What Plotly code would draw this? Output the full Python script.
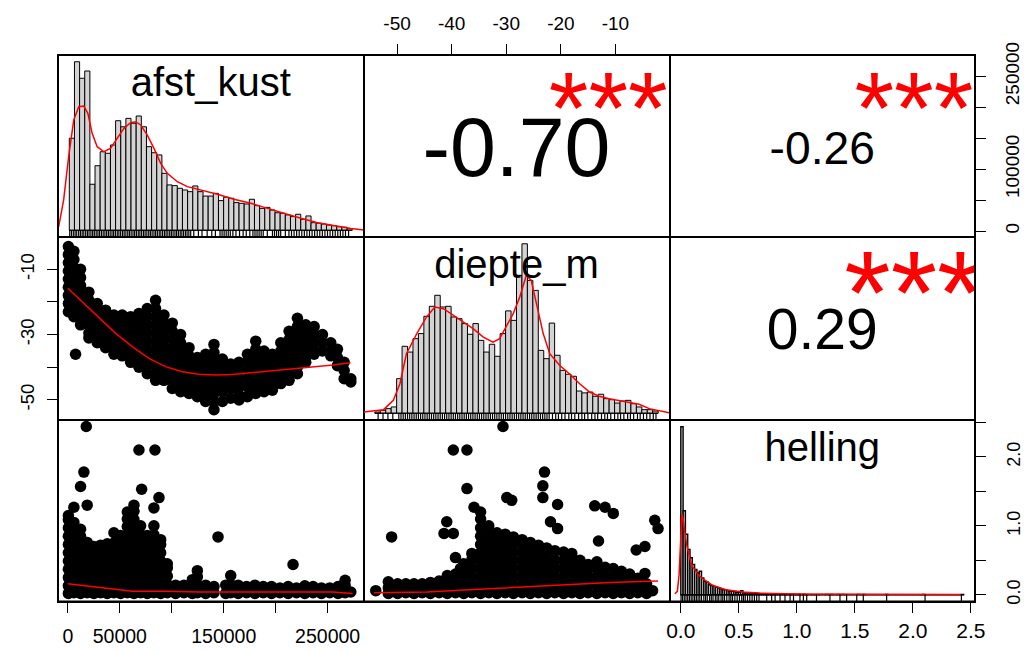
import plotly.graph_objects as go
import numpy as np

FONT = "Liberation Sans, Arial, sans-serif"

# ------------------------------------------------------------------ data
var_names = ["afst_kust", "diepte_m", "helling"]
cor_text = ["-0.70", "-0.26", "0.29"]          # (afst,diepte) (afst,helling) (diepte,helling)
cor_values = [-0.70, -0.26, 0.29]
cor_stars = ["***", "***", "***"]

# histogram of afst_kust (breaks 0..275000 by 5000), relative density
afst_breaks = (0, 275000, 5000)
afst_hist = [0.546, 1.0, 0.902, 0.945, 0.273, 0.383, 0.466, 0.457, 0.506, 0.650,
             0.614, 0.664, 0.635, 0.678, 0.614, 0.496, 0.460, 0.447, 0.338, 0.269,
             0.265, 0.249, 0.239, 0.229, 0.263, 0.229, 0.203, 0.203, 0.219, 0.176,
             0.196, 0.190, 0.164, 0.160, 0.156, 0.184, 0.146, 0.130, 0.136, 0.120,
             0.104, 0.101, 0.091, 0.081, 0.095, 0.065, 0.085, 0.045, 0.042, 0.037,
             0.031, 0.027, 0.021, 0.018, 0.009]
afst_dens_x = [-10400, -5500, -600, 4300, 9200, 14100, 18000, 22200, 27100, 33600, 40000,
               46600, 53100, 59600, 64400, 69300, 75800, 82300, 88800, 95300, 105000,
               114800, 127800, 144000, 160000, 176500, 192700, 209000, 225000, 241400,
               257600, 273800, 286800]
afst_dens_y = [0.02, 0.18, 0.44, 0.654, 0.733, 0.737, 0.694, 0.575, 0.496, 0.466, 0.486,
               0.546, 0.605, 0.638, 0.644, 0.625, 0.565, 0.486, 0.397, 0.338, 0.288,
               0.259, 0.239, 0.214, 0.184, 0.16, 0.13, 0.10, 0.071, 0.045,
               0.026, 0.01, 0.002]
afst_rug = [400, 2100, 3900, 5600, 7200, 9100, 10800, 12500, 14100, 15900, 17600, 19200,
            21000, 22700, 24300, 26100, 27800, 29400, 31200, 32900, 34600, 36300, 38000,
            39700, 41500, 43100, 44800, 46600, 48200, 49900, 51700, 53300, 55000, 56800,
            58400, 60100, 61900, 63500, 65200, 67000, 68600, 70300, 72100, 73700, 75400,
            77200, 78800, 80500, 82300, 83900, 85600, 87400, 89000, 90700, 92500, 94100,
            95800, 97600, 99200, 100900, 102700, 104300, 106000, 107800, 109400, 111100,
            112900, 114500, 116200, 118000, 121000, 125500, 129000, 134000, 138500,
            142000, 146500, 148500, 150500, 152500, 154500, 156500, 159000, 162000,
            165500, 169000, 172000, 175500, 178500, 180500, 182500, 184500, 186500,
            188500, 192500, 197500, 199500, 201500, 203500, 205500, 210000, 213500,
            216000, 218500, 221000, 223500, 226000, 228500, 231000, 233500, 236000,
            238500, 241000, 243500, 246000, 248500, 251000, 253500, 256000, 258500,
            261000, 263500, 266000, 268500, 271500]

# histogram of diepte_m (breaks -54..-2 by 1), relative density
diepte_breaks = (-54, -2, 1)
diepte_hist = [0.007, 0.017, 0.027, 0.037, 0.204, 0.395, 0.361, 0.440, 0.470, 0.572,
               0.631, 0.696, 0.627, 0.631, 0.568, 0.558, 0.529, 0.466, 0.529, 0.430,
               0.361, 0.407, 0.336, 0.470, 0.604, 0.548, 0.814, 1.0, 0.784, 0.725,
               0.371, 0.322, 0.532, 0.342, 0.253, 0.230, 0.218, 0.131, 0.120, 0.125,
               0.100, 0.112, 0.086, 0.080, 0.060, 0.072, 0.076, 0.056, 0.037, 0.021,
               0.021, 0.013]
diepte_dens_x = [-56.08, -52.4, -50.6, -49.4, -48.2, -46.3, -44.5, -43.0, -41.4, -39.6,
                 -37.8, -35.96, -34.1, -32.3, -31.1, -29.9, -28.6, -27.4, -26.2, -25.3,
                 -24.4, -23.1, -21.9, -20.1, -18.3, -16.4, -14.6, -12.8, -11.0, -9.1,
                 -7.3, -5.5, -3.64, -1.8, 0.02]
diepte_dens_y = [0.007, 0.021, 0.076, 0.174, 0.351, 0.470, 0.568, 0.627, 0.617, 0.578,
                 0.538, 0.499, 0.449, 0.420, 0.440, 0.509, 0.588, 0.686, 0.814, 0.784,
                 0.647, 0.470, 0.351, 0.283, 0.233, 0.174, 0.125, 0.100, 0.086, 0.076,
                 0.066, 0.053, 0.027, 0.013, 0.003]
diepte_rug = [-53.4, -52.5, -51.6, -50.7, -49.6, -49.2, -48.8, -48.4, -48.0, -47.6, -47.2,
              -46.8, -46.4, -46.0, -45.6, -45.2, -44.8, -44.4, -44.0, -43.6, -43.2, -42.8,
              -42.4, -42.0, -41.6, -41.2, -40.8, -40.4, -40.0, -39.6, -39.2, -38.8, -38.4,
              -38.0, -37.6, -37.2, -36.8, -36.4, -36.0, -35.6, -35.2, -34.8, -34.4, -34.0,
              -33.6, -33.2, -32.8, -32.4, -32.0, -31.6, -31.2, -30.8, -30.4, -30.0, -29.6,
              -29.2, -28.8, -28.4, -28.0, -27.6, -27.2, -26.8, -26.4, -26.0, -25.6, -25.2,
              -24.8, -24.4, -24.0, -23.6, -23.2, -22.8, -22.4, -22.0, -21.4, -20.8, -20.3,
              -19.7, -19.1, -18.4, -17.9, -17.3, -16.6, -16.0, -15.5, -14.9, -14.2, -13.6,
              -13.1, -12.4, -11.8, -11.3, -10.7, -10.0, -9.4, -8.9, -8.3, -7.6, -7.1,
              -6.5, -5.8, -5.3, -4.7, -4.1, -3.5, -2.9, -2.4]

# histogram of helling (breaks 0..2.46 by 0.02), relative density
helling_breaks = (0.0, 2.46, 0.02)
helling_hist = [1.0, 0.50, 0.36, 0.27, 0.22, 0.18, 0.15, 0.13, 0.14, 0.10,
                0.08, 0.075, 0.06, 0.055, 0.05, 0.045, 0.04, 0.035, 0.03, 0.03,
                0.025, 0.02, 0.02, 0.018, 0.015, 0.015, 0.025, 0.012, 0.01, 0.01,
                0.01, 0.012, 0.008, 0.008, 0.006, 0.005, 0.004, 0.004, 0.006, 0.003,
                0.003, 0.005, 0.002, 0.002, 0.004, 0.002, 0.003, 0.002, 0.004, 0.002,
                0.002, 0.004, 0.001, 0.003, 0.001, 0, 0, 0.001, 0, 0.001,
                0, 0, 0, 0.002, 0, 0.002, 0, 0, 0.002, 0,
                0.002, 0, 0, 0, 0, 0, 0, 0.002, 0, 0.002,
                0, 0, 0, 0, 0, 0, 0, 0, 0, 0.002,
                0, 0, 0, 0, 0, 0, 0, 0, 0, 0,
                0, 0, 0, 0, 0, 0.002, 0, 0, 0, 0,
                0, 0, 0, 0, 0, 0, 0, 0, 0, 0,
                0, 0, 0.002]
helling_dens_x = [-0.052, -0.03, -0.015, 0.0, 0.009, 0.02, 0.049, 0.08, 0.106, 0.15,
                  0.193, 0.28, 0.395, 0.539, 0.682, 1.0, 1.5, 2.0, 2.437]
helling_dens_y = [0.006, 0.02, 0.12, 0.35, 0.479, 0.45, 0.304, 0.21, 0.165, 0.12,
                  0.095, 0.055, 0.03, 0.016, 0.01, 0.005, 0.003, 0.002, 0.002]
helling_rug = [0.002, 0.015, 0.03, 0.045, 0.06, 0.075, 0.09, 0.105, 0.12, 0.135, 0.15,
               0.165, 0.18, 0.2, 0.215, 0.23, 0.25, 0.265, 0.28, 0.3, 0.315, 0.33, 0.35,
               0.365, 0.38, 0.4, 0.42, 0.435, 0.45, 0.47, 0.49, 0.51, 0.53, 0.545, 0.56,
               0.58, 0.6, 0.62, 0.64, 0.66, 0.68, 0.747, 0.79, 0.82, 0.863, 0.906, 0.95,
               0.98, 1.036, 1.066, 1.095, 1.18, 1.297, 1.384, 1.442, 1.53, 1.587, 1.79,
               2.124, 2.44]

# scatter afst_kust (x) vs diepte_m (y): columns of points
afst_diepte_cols = [
    (500, [-3, -5.5, -8, -10.5, -13, -15.5, -18, -20.5, -23]),
    (5800, [-4.5, -7, -9.5, -12, -14.5, -17, -19.5, -22, -24.5]),
    (7400, [-36]),
    (12200, [-10, -12.5, -15, -17.5, -20, -22.5, -25, -27]),
    (20200, [-17, -19.5, -22, -24.5, -27, -29.5, -31]),
    (28300, [-20.5, -23, -25.5, -28, -30.5, -32.5]),
    (36300, [-22.5, -25, -27.5, -30, -32.5, -34]),
    (44300, [-24, -26.5, -29, -31.5, -34, -36]),
    (52300, [-24, -26.5, -29, -31.5, -34, -36.5]),
    (60400, [-24.5, -27, -29.5, -32, -34.5, -37, -38.5]),
    (68400, [-23.5, -26, -28.5, -31, -33.5, -36, -38.5, -40]),
    (76400, [-22, -24.5, -27, -29.5, -32, -34.5, -37, -39.5, -42]),
    (84400, [-19.5, -22, -24.5, -27, -29.5, -32, -34.5, -37, -39.5, -42, -44]),
    (92500, [-24, -26.5, -29, -31.5, -34, -36.5, -39, -41.5, -44]),
    (100500, [-26.5, -29, -31.5, -34, -36.5, -39, -41.5, -44, -46.5]),
    (108500, [-30, -32.5, -35, -37.5, -40, -42.5, -45, -47.5]),
    (116600, [-34, -36.5, -39, -41.5, -44, -46.5, -48]),
    (124600, [-37, -39.5, -42, -44.5, -47, -49]),
    (132600, [-36, -38.5, -41, -43.5, -46, -48.5, -50.5]),
    (140600, [-33, -35.5, -38, -40.5, -43, -45.5, -48, -50.5, -53]),
    (148700, [-37.5, -40, -42.5, -45, -47.5, -50.5]),
    (156700, [-39, -41.5, -44, -46.5, -49.5]),
    (164700, [-38.5, -41, -43.5, -46, -48.5, -50]),
    (172800, [-36, -38.5, -41, -43.5, -46, -49]),
    (180800, [-32, -34.5, -37, -39.5, -42, -44.5, -47, -48]),
    (188800, [-35, -37.5, -40, -42.5, -45, -47.5]),
    (196800, [-36, -38.5, -41, -43.5, -46, -47]),
    (204900, [-32.5, -35, -37.5, -40, -42.5, -45]),
    (212900, [-29, -31.5, -34, -36.5, -39, -41.5, -44]),
    (220900, [-25, -27.5, -30, -32.5, -35, -37.5, -40, -42]),
    (228900, [-27, -29.5, -32, -34.5, -37, -38.5]),
    (237000, [-27.5, -30, -32.5, -35, -36]),
    (245000, [-30, -32.5, -35]),
    (253000, [-32.5, -35, -36.5]),
    (259400, [-34.5, -37, -39.5]),
    (265900, [-38.5, -41, -43.5]),
    (272300, [-43.5, -44.5]),
]
lowess_ad_x = [0, 13800, 29900, 46000, 62000, 78000, 94000, 110000, 126000, 142000,
               158000, 174000, 190000, 206000, 222000, 238000, 255000, 272000]
lowess_ad_y = [-15.8, -20, -25, -29.6, -33.7, -37.3, -39.8, -41.4, -42.1, -42.4,
               -42.2, -41.7, -41.4, -40.8, -40.3, -39.8, -39.3, -38.6]

# scatter afst_kust (x) vs helling (y)
afst_helling_cols = [
    (500, [0.02, 0.13, 0.25, 0.37, 0.49, 0.61, 0.73, 0.85, 0.97, 1.09, 1.15]),
    (5800, [0.03, 0.15, 0.27, 0.39, 0.51, 0.63, 0.75, 0.87, 0.99, 1.05, 1.27]),
    (12200, [0.02, 0.13, 0.25, 0.37, 0.49, 0.61, 0.73, 0.85, 0.95, 1.57]),
    (15400, [1.78]),
    (17700, [2.44]),
    (18600, [0.03, 0.15, 0.27, 0.39, 0.51, 0.63, 0.76, 1.30]),
    (25000, [0.02, 0.13, 0.25, 0.37, 0.49, 0.61, 0.70]),
    (31500, [0.03, 0.15, 0.27, 0.39, 0.51, 0.63, 0.72]),
    (37900, [0.02, 0.13, 0.25, 0.37, 0.49, 0.61, 0.74]),
    (44300, [0.03, 0.15, 0.27, 0.39, 0.51, 0.63, 0.75, 0.90]),
    (50700, [0.02, 0.13, 0.25, 0.37, 0.49, 0.61, 0.73, 0.86]),
    (57200, [0.03, 0.15, 0.27, 0.39, 0.51, 0.63, 0.75, 0.87, 0.99, 1.10, 1.20]),
    (63600, [0.02, 0.13, 0.25, 0.37, 0.49, 0.61, 0.73, 0.85, 0.97, 1.09, 1.21, 1.30]),
    (68400, [2.10]),
    (70000, [0.03, 0.15, 0.27, 0.39, 0.51, 0.63, 0.75, 0.87, 1.00]),
    (71000, [1.53]),
    (76400, [0.02, 0.13, 0.25, 0.37, 0.49, 0.61, 0.73, 0.86]),
    (82800, [0.03, 0.15, 0.27, 0.39, 0.51, 0.63, 0.75, 0.87, 1.00, 1.26]),
    (83800, [2.10]),
    (87700, [1.41]),
    (89300, [0.02, 0.13, 0.25, 0.37, 0.49, 0.61, 0.73, 0.80]),
    (95700, [0.03, 0.15, 0.27, 0.39, 0.45]),
    (103700, [0.02, 0.14]),
    (111700, [0.03, 0.14]),
    (119800, [0.02, 0.13, 0.22]),
    (124600, [0.03, 0.14, 0.26, 0.35]),
    (132600, [0.02, 0.14]),
    (140600, [0.03, 0.12]),
    (144500, [0.84]),
    (151900, [0.02, 0.14]),
    (156700, [0.03, 0.15, 0.28]),
    (163900, [0.02, 0.14]),
    (172000, [0.03, 0.12]),
    (180000, [0.02, 0.14]),
    (188000, [0.03, 0.12]),
    (196000, [0.02, 0.12]),
    (204000, [0.03, 0.10]),
    (212000, [0.02, 0.12]),
    (216700, [0.44]),
    (220000, [0.03, 0.10]),
    (228000, [0.02, 0.13]),
    (236000, [0.03, 0.12]),
    (244000, [0.02, 0.10]),
    (252000, [0.03, 0.10]),
    (260000, [0.02, 0.12]),
    (266800, [0.03, 0.14, 0.21]),
    (272300, [0.04]),
]
lowess_ah_x = [0, 30000, 62000, 94000, 126000, 190000, 255000, 274000]
lowess_ah_y = [0.16, 0.11, 0.05, 0.05, 0.04, 0.04, 0.04, 0.02]

# scatter diepte_m (x) vs helling (y)
diepte_helling_cols = [
    (-53.9, [0.06]),
    (-51.6, [0.02, 0.10, 0.19]),
    (-51.0, [0.84]),
    (-49.9, [0.02, 0.10, 0.16]),
    (-48.4, [0.03, 0.12, 0.16]),
    (-46.9, [0.02, 0.10, 0.16]),
    (-45.4, [0.03, 0.12, 0.16]),
    (-43.9, [0.02, 0.10, 0.18]),
    (-42.3, [0.03, 0.12, 0.20]),
    (-41.4, [0.89]),
    (-40.9, [1.06]),
    (-40.8, [0.02, 0.13, 0.25, 0.28]),
    (-39.7, [0.89, 2.10]),
    (-39.3, [0.03, 0.15, 0.27, 0.30, 0.54]),
    (-38.4, [0.38]),
    (-37.8, [0.02, 0.13, 0.25, 0.37, 0.45]),
    (-37.2, [1.54, 2.10]),
    (-36.3, [0.03, 0.15, 0.27, 0.39, 0.51, 0.60]),
    (-35.9, [1.27]),
    (-34.7, [0.02, 0.13, 0.25, 0.37, 0.49, 0.61, 0.73, 0.85, 0.97, 1.10, 1.20]),
    (-33.2, [0.03, 0.15, 0.27, 0.39, 0.51, 0.63, 0.75, 0.87, 1.00]),
    (-31.7, [0.02, 0.13, 0.25, 0.37, 0.49, 0.61, 0.73, 0.85, 0.90]),
    (-30.6, [2.44]),
    (-30.2, [0.03, 0.15, 0.27, 0.39, 0.51, 0.63, 0.75, 0.88]),
    (-29.9, [1.41]),
    (-29.0, [1.37]),
    (-28.7, [0.02, 0.13, 0.25, 0.37, 0.49, 0.61, 0.73, 0.84]),
    (-27.1, [0.03, 0.15, 0.27, 0.39, 0.51, 0.63, 0.75, 0.80]),
    (-25.6, [0.02, 0.13, 0.25, 0.37, 0.49, 0.61, 0.73, 0.76]),
    (-24.1, [0.03, 0.15, 0.27, 0.39, 0.51, 0.63, 0.72]),
    (-23.3, [1.41, 1.58]),
    (-23.0, [1.78]),
    (-22.6, [0.02, 0.13, 0.25, 0.37, 0.49, 0.61, 0.68]),
    (-21.9, [1.06]),
    (-21.1, [0.03, 0.15, 0.27, 0.39, 0.51, 0.64]),
    (-20.6, [0.96, 1.31]),
    (-19.5, [0.02, 0.13, 0.25, 0.37, 0.49, 0.62]),
    (-18.0, [0.03, 0.15, 0.27, 0.39, 0.51, 0.60]),
    (-16.5, [0.02, 0.13, 0.25, 0.37, 0.50]),
    (-15.0, [0.03, 0.15, 0.27, 0.39, 0.44]),
    (-13.8, [1.29]),
    (-13.4, [0.02, 0.13, 0.25, 0.37, 0.48]),
    (-13.1, [0.78]),
    (-11.9, [0.03, 0.15, 0.27, 0.40, 1.27]),
    (-10.4, [0.02, 0.13, 0.25, 0.38, 1.18]),
    (-8.9, [0.03, 0.15, 0.27, 0.34]),
    (-7.4, [0.02, 0.13, 0.25, 0.30]),
    (-6.2, [0.65]),
    (-5.9, [0.03, 0.15, 0.24]),
    (-4.6, [0.31, 0.70]),
    (-4.3, [0.02, 0.10, 0.16]),
    (-3.2, [0.06]),
    (-2.8, [1.08]),
    (-2.2, [0.96]),
]
lowess_dh_x = [-54.2, -44.5, -32.3, -20.1, -11.0, -2.2]
lowess_dh_y = [0.03, 0.04, 0.09, 0.14, 0.18, 0.20]

# ------------------------------------------------------------------ layout helpers
W, H = 1029, 652
XE = [58, 363.5, 669.5, 975]
YE = [55, 237, 420, 601.5]
AFST_RANGE = [-9500, 284500]
DIEPTE_RANGE = [-56.15, -0.1]
HELLING_RANGE = [-0.097, 2.535]


def xdom(c):
    return [XE[c] / W, XE[c + 1] / W]


def ydom(r):
    return [1 - YE[r + 1] / H, 1 - YE[r] / H]


def aid(i):
    return "" if i == 1 else str(i)


def expand(cols):
    xs, ys = [], []
    for x, yl in cols:
        for y in yl:
            xs.append(x)
            ys.append(y)
    return xs, ys


def hist_ranges(breaks, heights):
    b0, b1, bw = breaks
    span = b1 - b0
    m = max(heights)
    return [b0 - 0.04 * span, b1 + 0.04 * span], [-0.04 * m, 1.04 * m]


def em_width(s):
    w = {"-": 0.333, ".": 0.278}
    return sum(w.get(ch, 0.556) for ch in s)


fig = go.Figure()
layout = dict(width=W, height=H, margin=dict(l=0, r=0, t=0, b=0, autoexpand=False),
              paper_bgcolor="white", plot_bgcolor="white", showlegend=False,
              font=dict(family=FONT, color="black"))

base_axis = dict(showline=True, mirror=True, linecolor="black", linewidth=1,
                 showgrid=False, zeroline=False, ticks="", showticklabels=False,
                 fixedrange=True, automargin=False)

ranges = {}
hr_afst = hist_ranges(afst_breaks, afst_hist)
hr_diepte = hist_ranges(diepte_breaks, diepte_hist)
hr_helling = hist_ranges(helling_breaks, helling_hist)
ranges[1] = hr_afst
ranges[2] = (DIEPTE_RANGE, [0, 1])
ranges[3] = ([0, 1], AFST_RANGE)
ranges[4] = (AFST_RANGE, DIEPTE_RANGE)
ranges[5] = hr_diepte
ranges[6] = ([0, 1], [0, 1])
ranges[7] = (AFST_RANGE, HELLING_RANGE)
ranges[8] = (DIEPTE_RANGE, HELLING_RANGE)
ranges[9] = hr_helling

tick_common = dict(ticks="outside", ticklen=10, tickwidth=1, tickcolor="black",
                   showticklabels=True)

for r in range(3):
    for c in range(3):
        i = r * 3 + c + 1
        xa = dict(base_axis, domain=xdom(c), anchor="y" + aid(i), range=ranges[i][0])
        ya = dict(base_axis, domain=ydom(r), anchor="x" + aid(i), range=ranges[i][1])
        layout["xaxis" + aid(i)] = xa
        layout["yaxis" + aid(i)] = ya

layout["xaxis2"].update(tick_common, side="top",
                        tickvals=[-50, -40, -30, -20, -10],
                        ticktext=["-50", "-40", "-30", "-20", "-10"],
                        tickfont=dict(size=19), ticklabelstandoff=6)
layout["yaxis3"].update(tick_common, side="right",
                        tickvals=[0, 50000, 100000, 150000, 200000, 250000],
                        ticktext=["0", "", "100000", "", "", "250000"],
                        tickangle=-90, tickfont=dict(size=19), ticklabelstandoff=10)
layout["yaxis4"].update(tick_common, side="left",
                        tickvals=[-50, -40, -30, -20, -10],
                        ticktext=["-50", "", "-30", "", "-10"],
                        tickangle=-90, tickfont=dict(size=18.5), ticklabelstandoff=6)
layout["xaxis7"].update(tick_common, side="bottom",
                        tickvals=[0, 50000, 100000, 150000, 200000, 250000],
                        ticktext=["0", "50000", "", "150000", "", "250000"],
                        tickfont=dict(size=19.5), ticklabelstandoff=7)
layout["xaxis10"] = dict(tick_common, domain=xdom(2), anchor="y10", overlaying="x9",
                         range=HELLING_RANGE, side="bottom", showline=False,
                         showgrid=False, zeroline=False, fixedrange=True, automargin=False,
                         tickvals=[0, 0.5, 1.0, 1.5, 2.0, 2.5],
                         ticktext=["0.0", "0.5", "1.0", "1.5", "2.0", "2.5"],
                         tickfont=dict(size=21), ticklabelstandoff=0)
layout["yaxis10"] = dict(tick_common, domain=ydom(2), anchor="x10", overlaying="y9",
                         range=HELLING_RANGE, side="right", showline=False,
                         showgrid=False, zeroline=False, fixedrange=True, automargin=False,
                         tickvals=[0, 0.5, 1.0, 1.5, 2.0, 2.5],
                         ticktext=["0.0", "", "1.0", "", "2.0", ""],
                         tickangle=-90, tickfont=dict(size=18), ticklabelstandoff=12)

# outer frame of the whole matrix (slightly heavier than the inner lines)
layout["shapes"] = [dict(type="rect", xref="paper", yref="paper",
                         x0=XE[0] / W, x1=XE[3] / W, y0=1 - YE[3] / H, y1=1 - YE[0] / H,
                         line=dict(color="black", width=2), layer="above")]

# ------------------------------------------------------------------ traces
RED = "#FF0000"
GRAY = "#D3D3D3"
MSIZE = 11.5


def add_hist(i, breaks, heights, dx, dy, rug, edge_w=1.0):
    b0, b1, bw = breaks
    edges = np.arange(b0, b1 + bw / 2, bw)
    centers = (edges[:-1] + edges[1:]) / 2
    xa, ya = "x" + aid(i), "y" + aid(i)
    fig.add_trace(go.Bar(x=centers, y=heights, width=bw, xaxis=xa, yaxis=ya,
                         marker=dict(color=GRAY, line=dict(color="black", width=edge_w))))
    fig.add_trace(go.Scatter(x=[b0, b1], y=[0, 0], mode="lines", xaxis=xa, yaxis=ya,
                             line=dict(color="black", width=1)))
    fig.add_trace(go.Scatter(x=dx, y=dy, mode="lines", xaxis=xa, yaxis=ya,
                             line=dict(color=RED, width=1.5)))
    yr = ranges[i][1]
    r_idx = (i - 1) // 3
    ph = YE[r_idx + 1] - YE[r_idx]
    y0 = yr[0]
    y1 = yr[0] + 7.0 / ph * (yr[1] - yr[0])
    rx, ry = [], []
    for v in rug:
        rx += [v, v, None]
        ry += [y0, y1, None]
    fig.add_trace(go.Scatter(x=rx, y=ry, mode="lines", xaxis=xa, yaxis=ya,
                             line=dict(color="black", width=1.2)))


def add_scatter(i, cols, lx, ly):
    xs, ys = expand(cols)
    xa, ya = "x" + aid(i), "y" + aid(i)
    fig.add_trace(go.Scatter(x=xs, y=ys, mode="markers", xaxis=xa, yaxis=ya,
                             marker=dict(color="black", size=MSIZE, line=dict(width=0))))
    fig.add_trace(go.Scatter(x=lx, y=ly, mode="lines", xaxis=xa, yaxis=ya,
                             line=dict(color=RED, width=1.5)))


def frac_pt(i, fx, fy):
    xr, yr = ranges[i]
    return xr[0] + fx * (xr[1] - xr[0]), yr[0] + fy * (yr[1] - yr[0])


def add_text(i, fx, fy, txt, size, color="black"):
    x, y = frac_pt(i, fx, fy)
    fig.add_trace(go.Scatter(x=[x], y=[y], mode="text", text=[txt],
                             textposition="middle center", cliponaxis=True,
                             xaxis="x" + aid(i), yaxis="y" + aid(i),
                             textfont=dict(family=FONT, size=size, color=color)))


add_hist(1, afst_breaks, afst_hist, afst_dens_x, afst_dens_y, afst_rug)
add_hist(5, diepte_breaks, diepte_hist, diepte_dens_x, diepte_dens_y, diepte_rug)
add_hist(9, helling_breaks, helling_hist, helling_dens_x, helling_dens_y, helling_rug,
         edge_w=1.4)

add_scatter(4, afst_diepte_cols, lowess_ad_x, lowess_ad_y)
add_scatter(7, afst_helling_cols, lowess_ah_x, lowess_ah_y)
add_scatter(8, diepte_helling_cols, lowess_dh_x, lowess_dh_y)

for i, name in zip([1, 5, 9], var_names):
    add_text(i, 0.5, 0.828, name, 40)

panel_w = XE[1] - XE[0]
for i, txt, r, stars, fy_num, fy_star in zip([2, 3, 6], cor_text, cor_values, cor_stars,
                                             [0.446, 0.464, 0.466], [0.655, 0.655, 0.635]):
    base = 0.8 * panel_w / em_width(txt)
    add_text(i, 0.5, fy_num, txt, base * (abs(r) + 0.3) / 1.3)
    add_text(i, 0.8, fy_star, stars, base * 0.95, RED)

fig.add_trace(go.Scatter(x=[None], y=[None], xaxis="x10", yaxis="y10", mode="markers"))

fig.update_layout(**layout)
fig.write_html("out.html")
